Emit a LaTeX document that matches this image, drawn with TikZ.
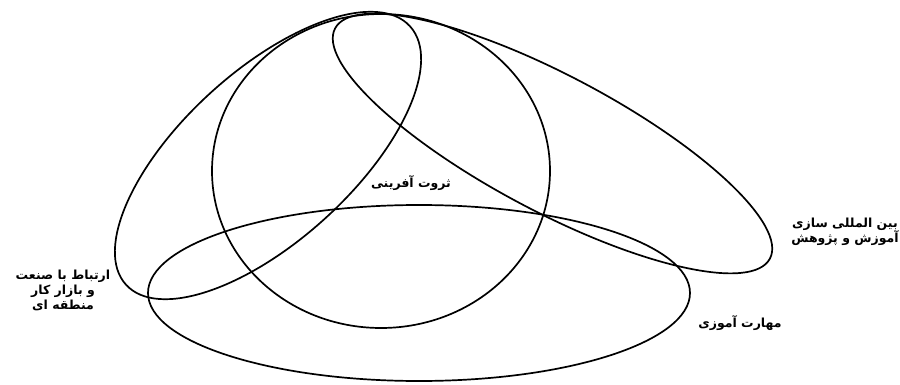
\documentclass[tikz,border=0pt]{standalone}
\usepackage{fontspec}
\usepackage{tikz}
\newfontfamily\farsi[Script=Arabic]{DejaVu Sans}
\TeXXeTstate=1
\tikzset{
  ring/.style={draw, line width=1.7pt},
  tag/.style={font=\farsi\bfseries\fontsize{12.5}{15}\selectfont, align=center, inner sep=1pt}
}

\begin{document}
\begin{tikzpicture}[x=1pt, y=-1pt]
  \useasboundingbox (0,0) rectangle (900,385);
  % the four sets
  \draw[ring] (381,171) ellipse [x radius=169pt, y radius=157pt];
  \draw[ring] (419,293) ellipse [x radius=271pt, y radius=88pt];
  \draw[ring, shift={(268,155.5)}, rotate=42.3] (0,0) ellipse [x radius=192pt, y radius=85pt];
  \draw[ring, shift={(552.5,143.5)}, rotate=-27.9] (0,0) ellipse [x radius=246pt, y radius=68pt];
  % labels
  \node[tag] (wealth) at (411,183) {\beginR ثروت آفرینی\endR};
  \node[tag] (intl) at (845,232) {\beginR بین المللی سازی\endR\\\beginR آموزش و پژوهش\endR};
  \node[tag] (skill) at (740,323) {\beginR مهارت آموزی\endR};
  \node[tag] (link) at (63,290) {\beginR ارتباط با صنعت\endR\\\beginR و بازار کار\endR\\\beginR منطقه ای\endR};
\end{tikzpicture}
\end{document}
